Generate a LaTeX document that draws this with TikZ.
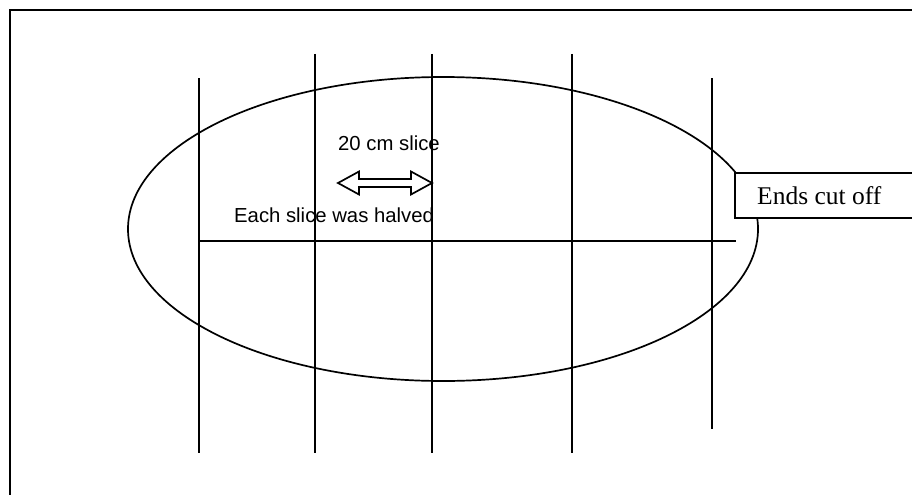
\documentclass[tikz,border=0pt]{standalone}
\usepackage{fontspec}
\setmainfont{Liberation Serif}
\newfontfamily\arialfont{Liberation Sans}
\begin{document}
\begin{tikzpicture}[x=1pt,y=-1pt,
  ln/.style={line width=1.7pt,black},
  sanslabel/.style={font=\arialfont\fontsize{20.3}{22}\selectfont,inner sep=0pt,anchor=base west},
  endbox/.style={draw,line width=1.7pt,fill=white}]
\useasboundingbox (0,0) rectangle (912,495);
\clip (0,0) rectangle (912,495);
% frame
\coordinate (fTR) at (912,10);
\coordinate (fTL) at (10,10);
\coordinate (fBL) at (10,495);
\draw[ln] (fTR) -- (fTL) -- (fBL);
% ellipse (log)
\draw[ln] (443,229) ellipse [x radius=315, y radius=152];
% slice lines
\coordinate (v1t) at (199,78);  \coordinate (v1b) at (199,453);
\coordinate (v2t) at (315,54);  \coordinate (v2b) at (315,453);
\coordinate (v3t) at (432,54);  \coordinate (v3b) at (432,453);
\coordinate (v4t) at (572,54);  \coordinate (v4b) at (572,453);
\coordinate (v5t) at (712,78);  \coordinate (v5b) at (712,429);
\foreach \i in {1,...,5} \draw[ln] (v\i t) -- (v\i b);
% halving line
\coordinate (hL) at (199,241);
\coordinate (hR) at (736,241);
\draw[ln] (hL) -- (hR);
% double block arrow
\draw[line width=1.7pt,fill=white] (338,183) -- (359,171.5) -- (359,179) -- (411,179) -- (411,171.5)
  -- (432,183) -- (411,194.5) -- (411,187) -- (359,187) -- (359,194.5) -- cycle;
% labels
\node[sanslabel] (slice) at (338,150) {20 cm slice};
\node[sanslabel] (halved) at (234,222) {Each slice was halved};
% ends cut off box
\draw[endbox] (735,173) rectangle (930,218);
\node[font=\fontsize{25.5}{28}\selectfont,inner sep=0pt,anchor=base west] (ends) at (757,204) {Ends cut off};
\end{tikzpicture}
\end{document}
